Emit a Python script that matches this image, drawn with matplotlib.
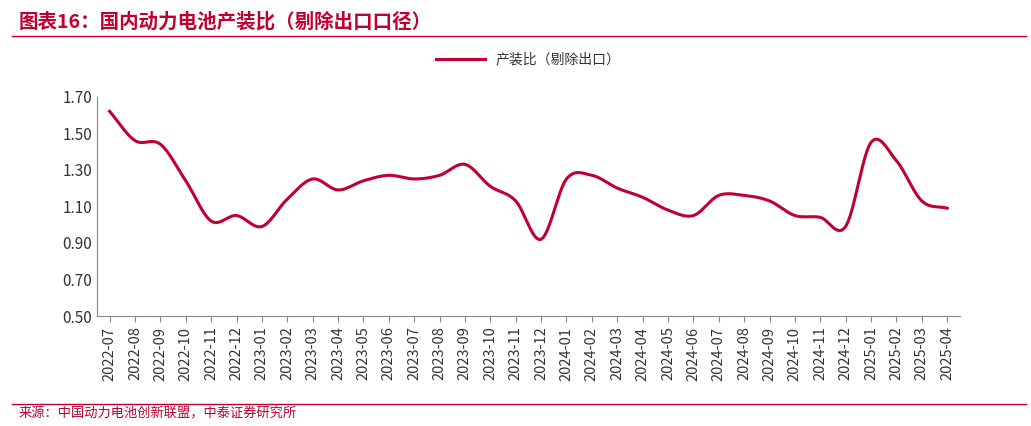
import matplotlib
matplotlib.use("Agg")
import matplotlib.pyplot as plt
import numpy as np

plt.rcParams['font.family'] = ['Noto Sans CJK SC', 'DejaVu Sans']

months = ["2022-07","2022-08","2022-09","2022-10","2022-11","2022-12",
          "2023-01","2023-02","2023-03","2023-04","2023-05","2023-06",
          "2023-07","2023-08","2023-09","2023-10","2023-11","2023-12",
          "2024-01","2024-02","2024-03","2024-04","2024-05","2024-06",
          "2024-07","2024-08","2024-09","2024-10","2024-11","2024-12",
          "2025-01","2025-02","2025-03","2025-04"]
ratio = [1.62,1.46,1.44,1.24,1.02,1.05,0.99,1.14,1.25,1.19,1.24,1.27,
         1.25,1.27,1.33,1.21,1.13,0.92,1.25,1.27,1.20,1.15,1.08,1.05,
         1.16,1.16,1.13,1.05,1.04,0.99,1.45,1.35,1.13,1.09]

def catmull(x, y, n=12):
    x = np.asarray(x, float); y = np.asarray(y, float)
    px = np.concatenate([[2*x[0]-x[1]], x, [2*x[-1]-x[-2]]])
    py = np.concatenate([[2*y[0]-y[1]], y, [2*y[-1]-y[-2]]])
    xs, ys = [], []
    for i in range(1, len(px)-2):
        t = np.linspace(0, 1, n, endpoint=False)
        for p, out in ((px, xs), (py, ys)):
            p0, p1, p2, p3 = p[i-1], p[i], p[i+1], p[i+2]
            out.extend(0.5*((2*p1) + (-p0+p2)*t + (2*p0-5*p1+4*p2-p3)*t**2 + (-p0+3*p1-3*p2+p3)*t**3))
    xs.append(x[-1]); ys.append(y[-1])
    return np.array(xs), np.array(ys)

red = "#C00030"
fig = plt.figure(figsize=(10.31, 4.26), dpi=100)
ax = fig.add_axes([0.094, 0.258, 0.837, 0.515])
x = np.arange(len(months))
sx, sy = catmull(x, ratio)
ax.plot(sx, sy, color=red, lw=2.2, label="产装比（剔除出口）")
ax.set_ylim(0.5, 1.7)
ax.set_yticks(np.arange(0.5, 1.71, 0.2))
ax.set_yticklabels([f"{v:.2f}" for v in np.arange(0.5, 1.71, 0.2)], fontsize=11, color="#333333")
ax.set_xlim(-0.5, len(months)-0.5)
ax.set_xticks(x)
ax.set_xticklabels(months, rotation=90, fontsize=10.5, color="#333333")
for s in ["top", "right"]:
    ax.spines[s].set_visible(False)
ax.spines["left"].set_color("#888888")
ax.spines["bottom"].set_color("#888888")
ax.tick_params(axis="y", length=0)
ax.tick_params(axis="x", length=4, color="#888888")
ax.legend(loc="lower center", bbox_to_anchor=(0.5, 1.08), frameon=False, fontsize=10,
          handlelength=3.5, labelcolor="#333333")

fig.text(0.018, 0.95, "图表16：国内动力电池产装比（剔除出口口径）", color=red, fontsize=14,
         fontweight="bold", style="italic", va="center")
fig.add_artist(plt.Line2D([0.012, 0.995], [0.915, 0.915], color=red, lw=1))
fig.add_artist(plt.Line2D([0.012, 0.995], [0.052, 0.052], color=red, lw=1))
fig.text(0.018, 0.028, "来源：中国动力电池创新联盟，中泰证券研究所", color=red, fontsize=9.5, va="center")
fig.savefig("out.png", dpi=100)
